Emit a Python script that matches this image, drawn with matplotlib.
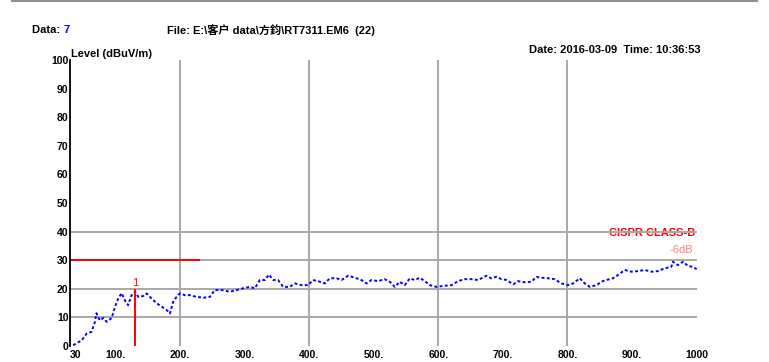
import matplotlib.pyplot as plt
from matplotlib.lines import Line2D

plt.rcParams['font.family'] = ['Liberation Sans', 'Noto Sans CJK SC', 'DejaVu Sans']

# trace (MHz, dBuV/m)
freq = [35, 48, 56, 63.5, 68.7, 71, 76, 81.5, 86.7, 94.5, 99.6, 104.7, 110, 115, 120,
        125.4, 130.6, 135.7, 143.4, 148.6, 156, 164, 171.8, 179.6, 184.7, 189.8, 195, 200,
        208, 215.6, 226, 236, 246.6, 254, 264.7, 277.5, 288, 298, 308.5, 316, 324, 331.7,
        338, 344.5, 352, 360, 370, 378, 388.4, 398.7, 406, 416.8, 424.5, 432, 442.6, 450.3,
        460.5, 471, 481, 489, 496.7, 507, 517, 525, 532.8, 540.5, 548, 556, 563.7, 571.5,
        579, 587, 597, 610, 620.5, 630.7, 641, 651, 661.7, 674.6, 682, 690, 698, 705.6,
        716, 723.5, 734, 744, 752, 759.7, 770, 780, 790.7, 801, 808.6, 819, 826.7, 834.5,
        844.8, 852.5, 860, 870.5, 878, 888.6, 899, 909, 919.5, 930, 940, 950.5, 960.8, 963,
        971, 978.8, 986.5, 994, 1000]
level = [0.3, 2, 4.4, 5, 8.5, 11.5, 9, 9.8, 8.5, 9.8, 13.7, 16.7, 18.5, 16, 14.3,
         17.8, 19, 17.2, 17.5, 18.4, 16.7, 15, 13.8, 12.6, 11.4, 15.5, 17.2, 18.4,
         17.8, 17.8, 17.2, 16.9, 17.2, 19.6, 19.6, 19, 19.6, 20.2, 20.7, 20.2, 23.1, 23.1,
         25, 23.1, 23.1, 20.7, 20.7, 21.9, 21.3, 21.3, 23.1, 22.5, 21.9, 23.7, 23.7, 23.1,
         24.6, 23.9, 23.1, 21.9, 23.1, 22.7, 23.4, 22.5, 20.7, 22.5, 21.3, 23.7, 23.1, 23.9,
         22.7, 21.3, 20.7, 21.1, 21.3, 22.7, 23.4, 23.4, 23.1, 24.6, 23.7, 24.2, 23.4, 23.1,
         21.6, 22.7, 22.3, 22.5, 24.2, 23.9, 23.7, 23.4, 21.9, 21.3, 21.9, 23.7, 21.9, 20.7,
         21.3, 22.5, 23.1, 23.7, 24.8, 26.6, 26, 26.2, 26.6, 26, 26.2, 27.2, 27.7, 29.5,
         28.3, 29.5, 28, 27.7, 26.9]

limit_freq = [30, 230]
limit_level = [30, 30]
marker_freq = 130.6
marker_level = 19.5

xticks = [30, 100, 200, 300, 400, 500, 600, 700, 800, 900, 1000]
xlabels = ['30', '100.', '200.', '300.', '400.', '500.', '600.', '700.', '800.', '900.', '1000']
yticks = [0, 10, 20, 30, 40, 50, 60, 70, 80, 90, 100]

fig = plt.figure(figsize=(7.69, 3.62), dpi=100)
ax = fig.add_axes([0.091, 0.044, 0.815, 0.790])

# grid: vertical lines full height, horizontal only up to 40
for f in [200, 400, 600, 800]:
    ax.axvline(f, color='#a8a8a8', lw=1.4, zorder=1)
for lv in [10, 20, 30, 40]:
    ax.axhline(lv, color='#a8a8a8', lw=1.4, zorder=1)

ax.plot(limit_freq, limit_level, color='red', lw=1.4, zorder=2)
ax.plot(freq, level, color='blue', lw=1.4, linestyle=(0, (1.5, 1.2)), zorder=3)
ax.plot([marker_freq, marker_freq], [0, marker_level], color='red', lw=1.4, zorder=4)
ax.text(marker_freq, marker_level + 0.8, '1', color='red', fontsize=8, ha='center', va='bottom')

ax.text(997, 39.5, 'CISPR CLASS-B', color='red', fontsize=8, fontweight='bold',
        ha='right', va='center', zorder=0)
ax.text(994, 33.6, '-6dB', color='#ff8080', fontsize=8, ha='right', va='center')

ax.set_xlim(30, 1000)
ax.set_ylim(0, 100)
ax.set_xticks(xticks)
ax.set_xticklabels(xlabels, fontsize=7.5, fontweight='bold')
ax.get_xticklabels()[0].set_horizontalalignment('left')
ax.set_yticks(yticks)
ax.set_yticklabels([str(v) for v in yticks], fontsize=7.5, fontweight='bold')
ax.tick_params(axis='x', length=0, pad=3)
ax.tick_params(axis='y', length=0, pad=1)
for s in ['top', 'right', 'bottom']:
    ax.spines[s].set_visible(False)
ax.spines['left'].set_linewidth(1.3)
ax.spines['left'].set_color('black')

# header texts
fig.add_artist(Line2D([0.015, 0.985], [0.996, 0.996], color='#909090', lw=1.5))
fig.text(0.042, 0.917, 'Data: ', fontsize=8, fontweight='bold', va='center')
fig.text(0.083, 0.917, '7', fontsize=8, fontweight='bold', color='blue', va='center')
fig.text(0.217, 0.917, 'File: E:\\客户 data\\方鈞\\RT7311.EM6  (22)', fontsize=8,
         fontweight='bold', va='center')
fig.text(0.092, 0.852, 'Level (dBuV/m)', fontsize=8, fontweight='bold', va='center')
fig.text(0.911, 0.862, 'Date: 2016-03-09  Time: 10:36:53', fontsize=8, fontweight='bold',
         ha='right', va='center')

plt.savefig('out.png', dpi=100)
